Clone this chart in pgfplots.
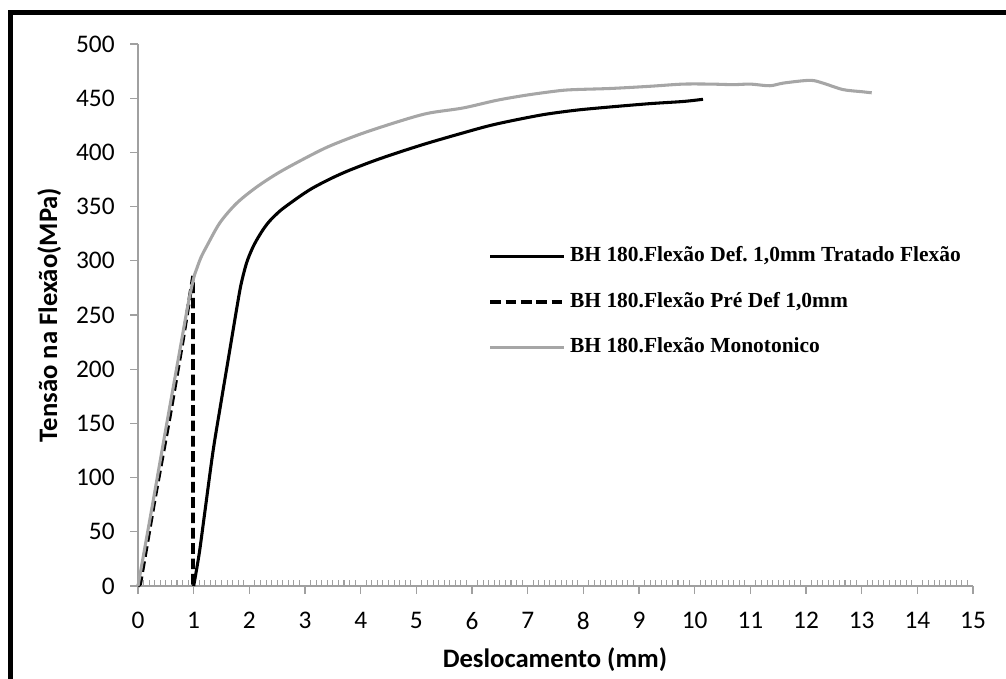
\documentclass[border=0pt]{standalone}
\usepackage{pgfplots}
\pgfplotsset{compat=1.18}
\usepackage{fontspec}
\setmainfont{Carlito}
\newfontfamily\tnr{Liberation Serif}
\definecolor{axgray}{RGB}{160,160,160}
\definecolor{curvegray}{RGB}{166,166,166}
\begin{document}
\frenchspacing
\begin{tikzpicture}
\useasboundingbox (0,0) rectangle (754.5pt,508.5pt);
\draw[line width=3.5pt] (8.1pt,-5pt) -- (8.1pt,499pt) -- (760pt,499pt);
\begin{axis}[
  at={(103.5pt,69pt)}, anchor=south west,
  scale only axis, width=626.25pt, height=406.5pt,
  xmin=0, xmax=15, ymin=0, ymax=500,
  axis lines=left, axis line style={-, draw=axgray, line width=0.8pt},
  xtick={0,1,...,15}, ytick={0,50,...,500},
  minor x tick num=9,
  tick align=outside,
  major tick length=6pt, minor tick length=4.5pt,
  every tick/.style={draw=axgray, line width=0.8pt},
  minor x tick style={yshift=4.5pt},
  tick label style={font=\fontsize{19}{23}\selectfont},
  xticklabel style={yshift=-10pt},
  yticklabel style={xshift=-8pt},
  /pgf/number format/assume math mode=true,
  clip=false,
  legend style={draw=none, fill=none, at={(axis cs:6.29,312.7)}, anchor=north west,
    inner sep=0pt, row sep=20pt,
    font=\tnr\bfseries\fontsize{16.1}{19}\selectfont,
    nodes={inner xsep=1.5pt, inner ysep=0pt, text height=11pt, text depth=3pt},
    cells={anchor=west}},
  legend image code/.code={\draw[#1] (0pt,0pt) -- (55pt,0pt); \path (57pt,0pt);},
]
\addplot[black, line width=2.3pt, smooth, tension=0.5] coordinates {
(1.0,0) (1.1,30) (1.2,68) (1.35,125) (1.5,172) (1.65,218) (1.77,255) (1.85,278)
(1.95,298) (2.05,311) (2.13,319) (2.25,329) (2.37,337) (2.55,346) (2.73,353)
(2.95,361) (3.15,367.5) (3.45,375.5) (3.75,382.5) (4.2,391.5)
(4.65,399.5) (5.2,408.5) (5.84,418) (6.3,424.5) (6.74,429.5) (7.3,435) (7.88,439)
(8.5,442) (9.2,445) (9.8,447) (10.15,449)
};
\addlegendentry{BH 180.Flexão Def. 1,0mm Tratado Flexão}
\addplot[black, line width=2.8pt, dash pattern=on 8pt off 3.5pt] coordinates {
(0,0) (0.04,2) (0.3,80) (0.57,156) (0.8,225) (0.99,286) (0.99,0)
};
\addlegendentry{BH 180.Flexão Pré Def 1,0mm}
\addplot[curvegray, line width=2.3pt, smooth, tension=0.5] coordinates {
(0,0) (0.25,72) (0.5,145) (0.75,217) (0.9,260) (1.0,284) (1.05,292) (1.13,303) (1.23,313) (1.47,335)
(1.77,353) (2.13,368) (2.55,382) (3.09,397) (3.45,406) (4.0,417) (4.65,428)
(5.2,436) (5.84,441) (6.44,448) (7.0,453) (7.58,457) (7.88,458) (8.5,459)
(9.2,461) (9.79,463) (10.3,463) (10.69,462.5) (11.0,463) (11.35,461.5)
(11.6,464) (12.07,466.5) (12.3,464) (12.66,458) (13.0,456) (13.18,455)
};
\addlegendentry{BH 180.Flexão Monotonico}
\end{axis}
\node[font=\bfseries\fontsize{20}{24}\selectfont] at (416.25pt,14pt) {Deslocamento (mm)};
\node[font=\bfseries\fontsize{20}{24}\selectfont, rotate=90] at (37pt,272.25pt) {Tensão na Flexão(MPa)};
\end{tikzpicture}
\end{document}
